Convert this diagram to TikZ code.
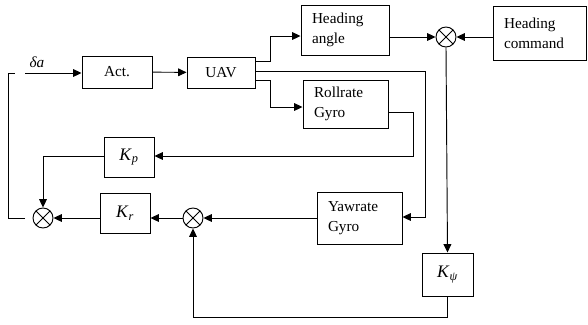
\documentclass[tikz,border=0pt]{standalone}
\usepackage{fontspec}
\setmainfont{Liberation Serif}
\usetikzlibrary{arrows.meta}
\tikzset{blk/.style={draw,inner sep=0pt},
  gyro/.style={draw,align=left,inner xsep=.33cm,inner ysep=0pt,text width=#1},
  sum/.style={draw,circle,minimum size=.6cm,inner sep=0pt,
    path picture={\draw (path picture bounding box.north west)--(path picture bounding box.south east)
      (path picture bounding box.north east)--(path picture bounding box.south west);}},
  sig/.style={-{Triangle[length=.25cm,width=.23cm]}}}
\newcommand{\gain}[1]{\textit{K}\textsubscript{\textit{#1}}}
\begin{document}
\begin{tikzpicture}[x=.03cm,y=-.03cm,line width=.8pt,font=\fontsize{13}{17}\selectfont]
\useasboundingbox (0,0) rectangle (588,324);
\node[blk,minimum width=2.1cm,minimum height=.96cm] (act) at (117,72) {Act.};
\node[blk,minimum width=2.04cm,minimum height=.93cm] (uav) at (221,72.5) {UAV};
\node[gyro=1.98cm,minimum height=1.5cm] (hang) at (345,30) {Heading\\angle};
\node[gyro=2.13cm,minimum height=1.62cm] (hcmd) at (539.5,33) {Heading\\command};
\node[gyro=1.89cm,minimum height=1.44cm] (roll) at (345.5,104) {Rollrate\\Gyro};
\node[gyro=1.89cm,minimum height=1.56cm] (yaw) at (359.5,218) {Yawrate\\Gyro};
\node[blk,minimum width=1.5cm,minimum height=1.2cm,font=\fontsize{15}{17}\selectfont] (kp) at (129,157) {\gain{p}};
\node[blk,minimum width=1.5cm,minimum height=1.2cm,font=\fontsize{15}{17}\selectfont] (kr) at (125,213) {\gain{r}};
\node[blk,minimum width=1.53cm,minimum height=1.29cm,font=\fontsize{15}{17}\selectfont] (kpsi) at (447.5,274.5) {\gain{ψ}};
\node[sum] (s1) at (446,37) {};\node[sum] (s2) at (193,218) {};\node[sum] (s3) at (43,218) {};
\node (da) at (37,62) {\textit{δa}};
\coordinate (in) at (25,73);\coordinate (fb) at (25,218);
\draw[sig] (in)--(in-|act.west);\draw[sig] (act)--(uav);
\draw[sig] (uav.east|-0,61)-|(270,36)--(hang.west|-0,36);
\draw[sig] (uav.east|-0,71)-|(425,217)--(yaw.east|-0,217);
\draw[sig] (uav.east|-0,80)-|(270,107)--(roll.west|-0,107);
\draw[sig] (roll.east|-0,112)-|(413,156)--(kp.east|-0,156);
\draw[sig] (kp.west|-0,156)-|(s3.north);
\draw[sig] (hang.east|-s1)--(s1.west);\draw[sig] (hcmd.west|-s1)--(s1.east);
\draw[sig] (s1.south)--(kpsi.north);
\draw[sig] (kpsi.south)--(kpsi.south|-0,317)-|(s2.south);
\draw[sig] (yaw.west|-s2)--(s2.east);\draw[sig] (s2.west)--(kr.east|-s2);
\draw[sig] (kr.west|-s3)--(s3.east);
\draw (fb)--(8,218)--(8,73)--(15,73);
\end{tikzpicture}
\end{document}
